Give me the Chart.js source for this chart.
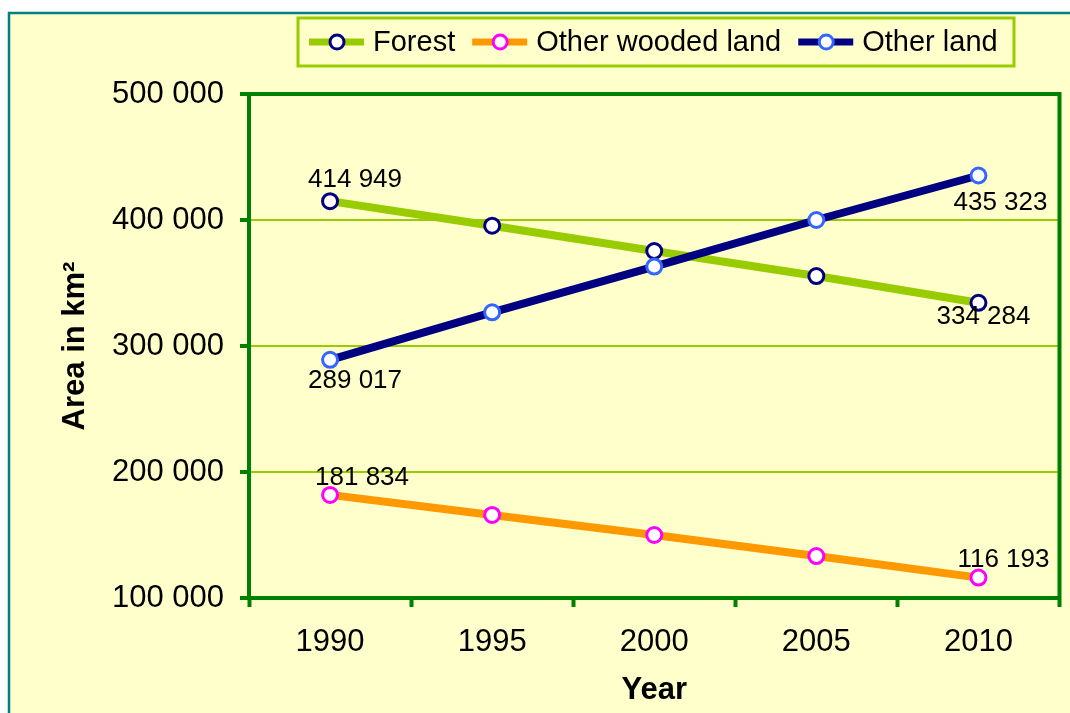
<!DOCTYPE html>
<html>
<head>
<meta charset="utf-8">
<title>Forest area</title>
<script src="https://cdn.jsdelivr.net/npm/chart.js@4.4.1/dist/chart.umd.min.js"></script>
<style>
  html, body { margin: 0; padding: 0; background: #fff; }
  #wrap { width: 1070px; height: 713px; }
</style>
</head>
<body>
<div id="wrap"><canvas id="landChart" width="1070" height="713"></canvas></div>
<script>
    // Chart data
    const years = ['1990', '1995', '2000', '2005', '2010'];
    const forest = [414949, 395500, 375400, 355500, 334284];
    const otherWooded = [181834, 165900, 150000, 133300, 116193];
    const otherLand = [289017, 326700, 363000, 400000, 435323];
    const yTicks = [100000, 200000, 300000, 400000, 500000];
    const seriesNames = ['Forest', 'Other wooded land', 'Other land'];

    const FONT = "'Liberation Sans', Arial, Helvetica, sans-serif";

    function fmt(v) {
      return String(v).replace(/\B(?=(\d{3})+(?!\d))/g, ' ');
    }

    // Yellow panel with teal frame behind everything
    const panelBackground = {
      id: 'panelBackground',
      beforeDraw(chart) {
        const { ctx, width, height } = chart;
        ctx.save();
        ctx.fillStyle = '#ffffff';
        ctx.fillRect(0, 0, width, height);
        ctx.fillStyle = '#FFFFCC';
        ctx.fillRect(8, 12, width - 8, height - 12);
        ctx.strokeStyle = '#008080';
        ctx.lineWidth = 2.5;
        ctx.beginPath();
        ctx.moveTo(9, height);
        ctx.lineTo(9, 13);
        ctx.lineTo(width, 13);
        ctx.stroke();
        ctx.restore();
      }
    };

    // Top and right edges of the plot frame (left/bottom come from the axes)
    const plotFrame = {
      id: 'plotFrame',
      afterDatasetsDraw(chart) {
        const { ctx, chartArea: a } = chart;
        ctx.save();
        ctx.strokeStyle = '#008000';
        ctx.lineWidth = 4;
        ctx.beginPath();
        ctx.moveTo(a.left - 2, a.top);
        ctx.lineTo(a.right, a.top);
        ctx.lineTo(a.right, a.bottom + 2);
        ctx.stroke();
        ctx.restore();
      }
    };

    // Value labels on first and last points
    const endLabels = {
      id: 'endLabels',
      afterDatasetsDraw(chart, args, opts) {
        const { ctx } = chart;
        ctx.save();
        ctx.font = '26px ' + FONT;
        ctx.fillStyle = '#000';
        ctx.textAlign = 'center';
        ctx.textBaseline = 'middle';
        chart.data.datasets.forEach((ds, i) => {
          const meta = chart.getDatasetMeta(i);
          const offs = opts.offsets[i];
          [0, ds.data.length - 1].forEach((idx, k) => {
            const pt = meta.data[idx];
            ctx.fillText(fmt(ds.data[idx]), pt.x + offs[k][0], pt.y + offs[k][1]);
          });
        });
        ctx.restore();
      }
    };

    // Legend box drawn by hand: line + marker + text
    const boxLegend = {
      id: 'boxLegend',
      afterDraw(chart) {
        const { ctx } = chart;
        ctx.save();
        ctx.fillStyle = '#FFFFCC';
        ctx.fillRect(298, 18, 716, 48);
        ctx.strokeStyle = '#99CC00';
        ctx.lineWidth = 3;
        ctx.strokeRect(298, 18, 716, 48);

        ctx.font = '29px ' + FONT;
        ctx.textBaseline = 'middle';
        let x = 309;
        const y = 42;
        chart.data.datasets.forEach(ds => {
          ctx.strokeStyle = ds.borderColor;
          ctx.lineWidth = 7;
          ctx.beginPath();
          ctx.moveTo(x, y);
          ctx.lineTo(x + 55, y);
          ctx.stroke();
          ctx.beginPath();
          ctx.arc(x + 28, y, 7, 0, Math.PI * 2);
          ctx.fillStyle = '#fff';
          ctx.fill();
          ctx.lineWidth = 3;
          ctx.strokeStyle = ds.pointBorderColor;
          ctx.stroke();
          ctx.fillStyle = '#000';
          ctx.textAlign = 'left';
          ctx.fillText(ds.label, x + 64, y + 1);
          x += 64 + ctx.measureText(ds.label).width + 17;
        });
        ctx.restore();
      }
    };

    function makeSeries(label, data, lineColor, markerColor, order) {
      return {
        label: label,
        data: data,
        borderColor: lineColor,
        borderWidth: 8,
        pointRadius: 7.5,
        pointBorderWidth: 3,
        pointBackgroundColor: '#ffffff',
        pointBorderColor: markerColor,
        tension: 0,
        fill: false,
        order: order
      };
    }

    const ctx = document.getElementById('landChart').getContext('2d');
    const landChart = new Chart(ctx, {
      type: 'line',
      data: {
        labels: years,
        datasets: [
          makeSeries(seriesNames[0], forest, '#99CC00', '#000080', 2),
          makeSeries(seriesNames[1], otherWooded, '#FF9900', '#FF00FF', 1),
          makeSeries(seriesNames[2], otherLand, '#000080', '#3366FF', 0)
        ]
      },
      options: {
        responsive: false,
        animation: false,
        devicePixelRatio: 1,
        layout: { padding: { top: 94, right: 8, left: 0, bottom: 0 } },
        plugins: {
          legend: { display: false },
          tooltip: { enabled: false },
          endLabels: {
            offsets: [
              [[25, -21], [5, 14]],
              [[32, -17], [25, -18]],
              [[25, 21], [22, 27]]
            ]
          }
        },
        scales: {
          x: {
            type: 'category',
            offset: true,
            grid: {
              offset: true,
              drawOnChartArea: false,
              drawTicks: true,
              tickLength: 9,
              tickWidth: 4,
              tickColor: '#008000'
            },
            border: { color: '#008000', width: 4 },
            ticks: {
              color: '#000',
              font: { family: FONT, size: 31 },
              padding: 17,
              maxRotation: 0
            },
            title: {
              display: true,
              text: 'Year',
              color: '#000',
              font: { family: FONT, size: 31, weight: 'bold' },
              padding: { top: 0, bottom: 4 }
            },
            afterFit: scale => { scale.height = 115; }
          },
          y: {
            min: 100000,
            max: 500000,
            afterBuildTicks: scale => {
              scale.ticks = yTicks.map(v => ({ value: v }));
            },
            grid: {
              color: '#99CC00',
              lineWidth: 2,
              tickColor: '#008000',
              tickWidth: 4,
              tickLength: 9
            },
            border: { color: '#008000', width: 4 },
            ticks: {
              color: '#000',
              font: { family: FONT, size: 31 },
              padding: 16,
              callback: v => fmt(v)
            },
            title: {
              display: true,
              text: 'Area in km²',
              color: '#000',
              font: { family: FONT, size: 31, weight: 'bold' },
              padding: { top: 57, bottom: 0 }
            },
            afterFit: scale => { scale.width = 249; }
          }
        }
      },
      plugins: [panelBackground, plotFrame, endLabels, boxLegend]
    });
</script>
</body>
</html>
